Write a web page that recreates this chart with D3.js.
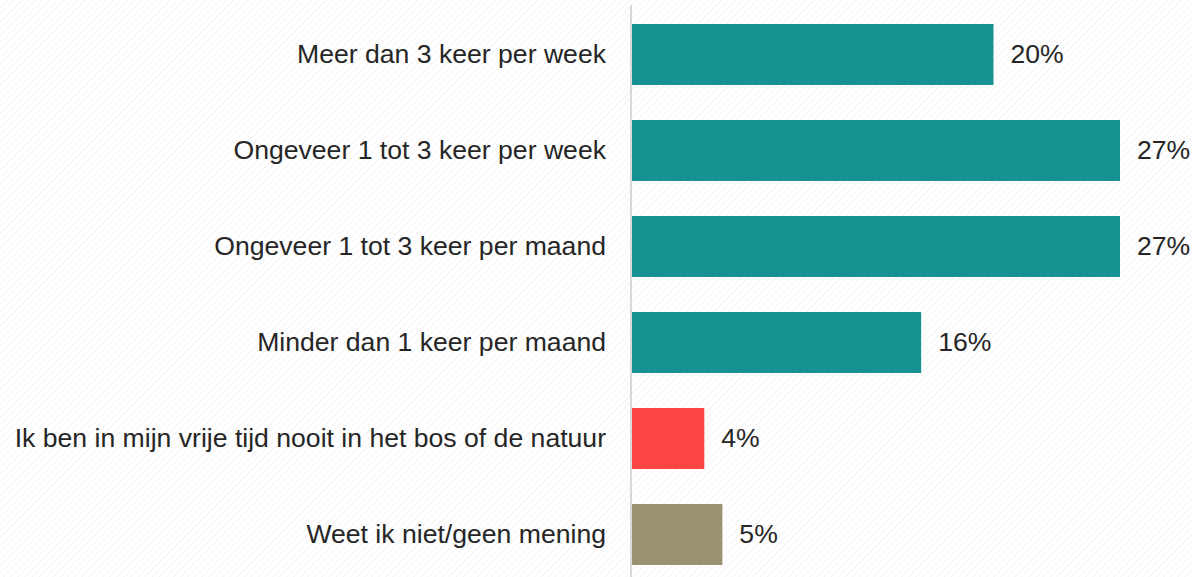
<!DOCTYPE html>
<html>
<head>
<meta charset="utf-8">
<script src="https://cdn.jsdelivr.net/npm/d3@7"></script>
<style>
  html, body { margin:0; padding:0; background:#fff; }
  svg { display:block; font-family:"Liberation Sans", Arial, sans-serif; }
</style>
</head>
<body>
<div id="chart"></div>
<script>
// Frequentie bos/natuur bezoek — horizontal bar chart

const categories = [
  "Meer dan 3 keer per week",
  "Ongeveer 1 tot 3 keer per week",
  "Ongeveer 1 tot 3 keer per maand",
  "Minder dan 1 keer per maand",
  "Ik ben in mijn vrije tijd nooit in het bos of de natuur",
  "Weet ik niet/geen mening"
];
const values = [20, 27, 27, 16, 4, 5];
const barColors = ["#169291", "#169291", "#169291", "#169291", "#fe4343", "#9a9173"];

const width = 1192, height = 577;
const axisX = 632;
const fontSize = 26.6;

const svg = d3.select("#chart").append("svg")
  .attr("width", width).attr("height", height);

// faint diagonal hatching on background
const defs = svg.append("defs");
const pat = defs.append("pattern")
  .attr("id", "hatch").attr("patternUnits", "userSpaceOnUse")
  .attr("width", 5).attr("height", 5)
  .attr("patternTransform", "rotate(45)");
pat.append("line").attr("x1", 0).attr("y1", 0).attr("x2", 0).attr("y2", 5)
  .attr("stroke", "#f0f0f0").attr("stroke-width", 1.5);
svg.append("rect").attr("width", width).attr("height", height).attr("fill", "#fff");
svg.append("rect").attr("width", width).attr("height", height).attr("fill", "url(#hatch)");

const x = d3.scaleLinear().domain([0, 27]).range([axisX, 1120]);
const y = d3.scaleBand().domain(categories).range([6.5, 582.5])
  .paddingInner(0.365).paddingOuter(0.1825);

// bars
svg.selectAll("rect.bar").data(values).join("rect")
  .attr("class", "bar")
  .attr("x", x(0))
  .attr("y", (d, i) => y(categories[i]))
  .attr("width", d => x(d) - x(0))
  .attr("height", y.bandwidth())
  .attr("fill", (d, i) => barColors[i]);

// vertical axis line
svg.append("line")
  .attr("x1", axisX - 1).attr("x2", axisX - 1)
  .attr("y1", 5).attr("y2", height)
  .attr("stroke", "#d9d9d9").attr("stroke-width", 2);

// category labels
svg.selectAll("text.cat").data(categories).join("text")
  .attr("class", "cat")
  .attr("x", axisX - 26)
  .attr("y", d => y(d) + y.bandwidth() / 2)
  .attr("dy", "0.33em")
  .attr("text-anchor", "end")
  .attr("font-size", fontSize)
  .attr("fill", "#262626")
  .text(d => d);

// value labels
svg.selectAll("text.val").data(values).join("text")
  .attr("class", "val")
  .attr("x", d => x(d) + 17)
  .attr("y", (d, i) => y(categories[i]) + y.bandwidth() / 2)
  .attr("dy", "0.33em")
  .attr("font-size", fontSize)
  .attr("fill", "#262626")
  .text(d => d + "%");
</script>
</body>
</html>
